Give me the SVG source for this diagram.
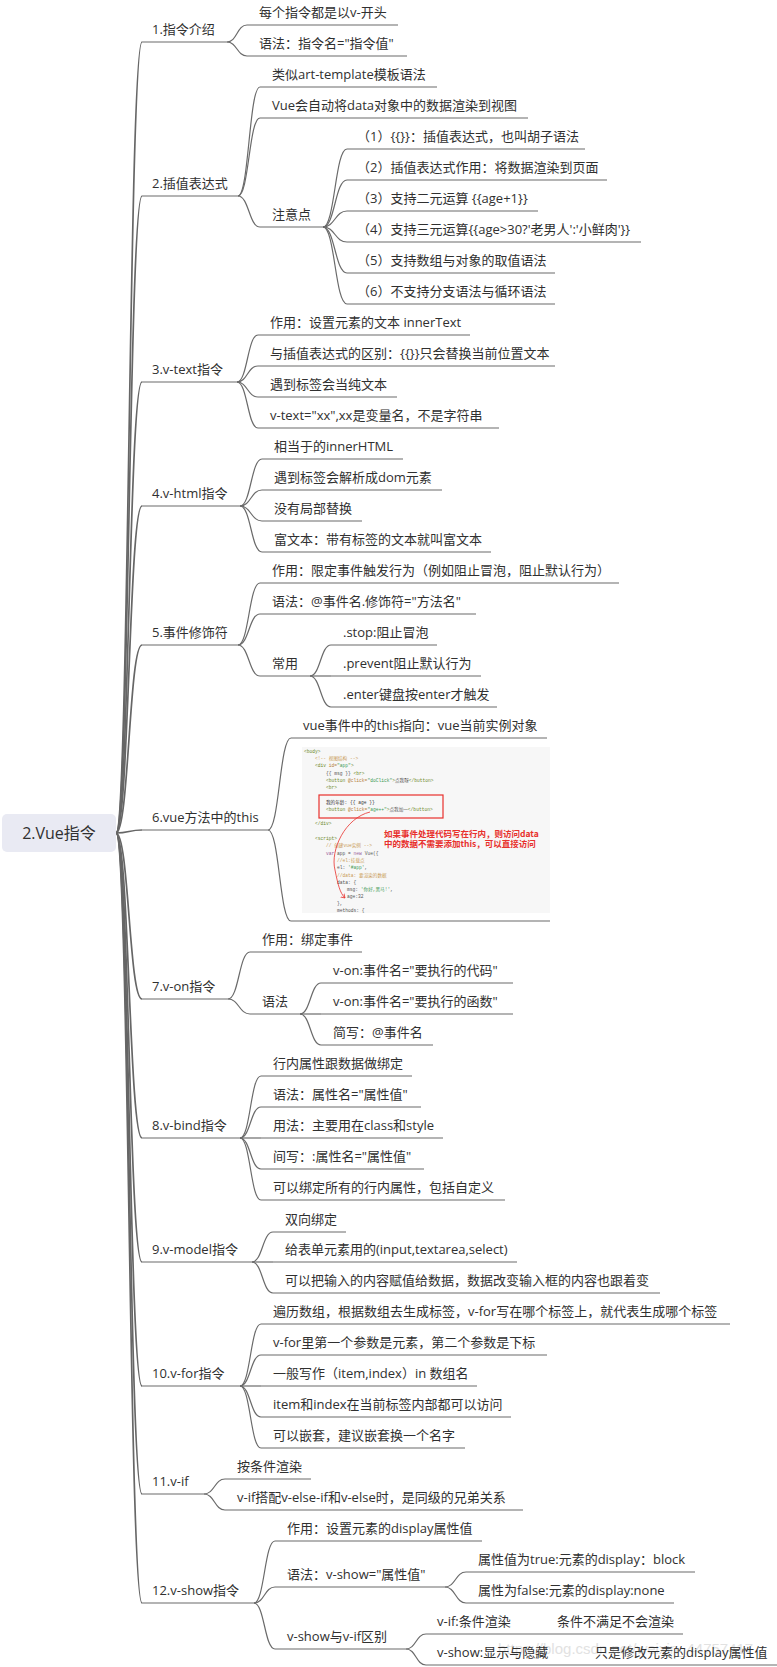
<svg xmlns="http://www.w3.org/2000/svg" width="777" height="1667" viewBox="0 0 777 1667">
<style>
.t{font-family:"Open Sans","Noto Sans CJK SC",sans-serif;font-size:13px;fill:#303030}
.u{stroke:#6a6a6a;stroke-width:1.2;fill:none}
.c{stroke:#6a6a6a;stroke-width:1.2;fill:none}
.k{stroke:#666666;stroke-width:1.7;fill:none}
.code{font-family:"Liberation Mono","Noto Sans CJK SC",monospace;font-size:4.6px;fill:#555}
.tg{fill:#6d8a2c}.at{fill:#b5813a}.st{fill:#3c9a55}.cm{fill:#c99a55}.kw{fill:#9a5a9a}
.red{font-family:"Noto Sans CJK SC",sans-serif;font-size:8.5px;font-weight:bold;fill:#e8302c}
</style>
<defs>
<clipPath id="imgclip"><rect x="302" y="747" width="248" height="166"/></clipPath>
<marker id="rarrow" markerWidth="6" markerHeight="6" refX="4" refY="3" orient="auto" markerUnits="userSpaceOnUse"><path d="M0,0.5 L4,3 L0,5.5" fill="none" stroke="#e8302c" stroke-width="0.8"/></marker>
</defs>
<rect width="777" height="1667" fill="#ffffff"/>

<g id="connectors">
<g class="k">
<path d="M116,833 C129,833 129,42 142,42"/>
<path d="M116,833 C129,833 129,196 142,196"/>
<path d="M116,833 C129,833 129,382 142,382"/>
<path d="M116,833 C129,833 129,506 142,506"/>
<path d="M116,833 C129,833 129,645 142,645"/>
<path d="M116,833 C129,833 129,830 142,830"/>
<path d="M116,833 C129,833 129,999 142,999"/>
<path d="M116,833 C129,833 129,1138 142,1138"/>
<path d="M116,833 C129,833 129,1262 142,1262"/>
<path d="M116,833 C129,833 129,1386 142,1386"/>
<path d="M116,833 C129,833 129,1494 142,1494"/>
<path d="M116,833 C129,833 129,1603 142,1603"/>
</g>
<g class="c">
<path d="M227,42 C237,42 237,25 247,25"/>
<path d="M227,42 C237,42 237,56 247,56"/>
<path d="M238,196 C249,196 249,87 260,87"/>
<path d="M238,196 C249,196 249,118 260,118"/>
<path d="M238,196 C249,196 249,227 260,227"/>
<path d="M323,227 C335,227 335,149 347,149"/>
<path d="M323,227 C335,227 335,180 347,180"/>
<path d="M323,227 C335,227 335,211 347,211"/>
<path d="M323,227 C335,227 335,242 347,242"/>
<path d="M323,227 C335,227 335,273 347,273"/>
<path d="M323,227 C335,227 335,304 347,304"/>
<path d="M237,382 C247.5,382 247.5,335 258,335"/>
<path d="M237,382 C247.5,382 247.5,366 258,366"/>
<path d="M237,382 C247.5,382 247.5,397 258,397"/>
<path d="M237,382 C247.5,382 247.5,428 258,428"/>
<path d="M240,506 C251,506 251,459 262,459"/>
<path d="M240,506 C251,506 251,490 262,490"/>
<path d="M240,506 C251,506 251,521 262,521"/>
<path d="M240,506 C251,506 251,552 262,552"/>
<path d="M238,645 C249,645 249,583 260,583"/>
<path d="M238,645 C249,645 249,614 260,614"/>
<path d="M238,645 C249,645 249,676 260,676"/>
<path d="M310,676 C320.5,676 320.5,645 331,645"/>
<path d="M310,676 L331,676"/>
<path d="M310,676 C320.5,676 320.5,707 331,707"/>
<path d="M268,830 C279.5,830 279.5,738 291,738"/>
<path d="M268,830 C279.5,830 279.5,921 291,921"/>
<path d="M228,999 C239,999 239,952 250,952"/>
<path d="M228,999 C239,999 239,1014 250,1014"/>
<path d="M300,1014 C310.5,1014 310.5,983 321,983"/>
<path d="M300,1014 L321,1014"/>
<path d="M300,1014 C310.5,1014 310.5,1045 321,1045"/>
<path d="M240,1138 C250.5,1138 250.5,1076 261,1076"/>
<path d="M240,1138 C250.5,1138 250.5,1107 261,1107"/>
<path d="M240,1138 L261,1138"/>
<path d="M240,1138 C250.5,1138 250.5,1169 261,1169"/>
<path d="M240,1138 C250.5,1138 250.5,1200 261,1200"/>
<path d="M252,1262 C262.5,1262 262.5,1232 273,1232"/>
<path d="M252,1262 L273,1262"/>
<path d="M252,1262 C262.5,1262 262.5,1293 273,1293"/>
<path d="M240,1386 C250.5,1386 250.5,1324 261,1324"/>
<path d="M240,1386 C250.5,1386 250.5,1355 261,1355"/>
<path d="M240,1386 L261,1386"/>
<path d="M240,1386 C250.5,1386 250.5,1417 261,1417"/>
<path d="M240,1386 C250.5,1386 250.5,1448 261,1448"/>
<path d="M204,1494 C214.5,1494 214.5,1479 225,1479"/>
<path d="M204,1494 C214.5,1494 214.5,1510 225,1510"/>
<path d="M254,1603 C264.5,1603 264.5,1541 275,1541"/>
<path d="M254,1603 C264.5,1603 264.5,1587 275,1587"/>
<path d="M254,1603 C264.5,1603 264.5,1649 275,1649"/>
<path d="M445,1587 C455.5,1587 455.5,1572 466,1572"/>
<path d="M445,1587 C455.5,1587 455.5,1603 466,1603"/>
<path d="M406,1649 C416,1649 416,1634 426,1634"/>
<path d="M406,1649 C416,1649 416,1665 426,1665"/>
</g>
</g>

<g id="root">
<rect x="2" y="814" width="114" height="38" rx="5" fill="#e9eaf3"/>
<text x="59" y="839" text-anchor="middle" class="t" style="font-size:16px">2.Vue指令</text>
</g>

<g id="n1"><line class="u" x1="142" y1="42" x2="227" y2="42"/><text class="t" x="152" y="34">1.指令介绍</text></g>
<g id="n1-1"><line class="u" x1="247" y1="25" x2="398" y2="25"/><text class="t" x="259" y="17">每个指令都是以v-开头</text></g>
<g id="n1-2"><line class="u" x1="247" y1="56" x2="407" y2="56"/><text class="t" x="259" y="48">语法：指令名="指令值"</text></g>

<g id="n2"><line class="u" x1="142" y1="196" x2="238" y2="196"/><text class="t" x="152" y="188">2.插值表达式</text></g>
<g id="n2-1"><line class="u" x1="260" y1="87" x2="437" y2="87"/><text class="t" x="272" y="79">类似art-template模板语法</text></g>
<g id="n2-2"><line class="u" x1="260" y1="118" x2="528" y2="118"/><text class="t" x="272" y="110">Vue会自动将data对象中的数据渲染到视图</text></g>
<g id="n2-3"><line class="u" x1="260" y1="227" x2="323" y2="227"/><text class="t" x="272" y="219">注意点</text></g>
<g id="n2-3-1"><line class="u" x1="347" y1="149" x2="585" y2="149"/><text class="t" x="357" y="141">（1）{{}}：插值表达式，也叫胡子语法</text></g>
<g id="n2-3-2"><line class="u" x1="347" y1="180" x2="607" y2="180"/><text class="t" x="357" y="172">（2）插值表达式作用：将数据渲染到页面</text></g>
<g id="n2-3-3"><line class="u" x1="347" y1="211" x2="538" y2="211"/><text class="t" x="357" y="203">（3）支持二元运算 {{age+1}}</text></g>
<g id="n2-3-4"><line class="u" x1="347" y1="242" x2="641" y2="242"/><text class="t" x="357" y="234">（4）支持三元运算{{age&gt;30?'老男人':'小鲜肉'}}</text></g>
<g id="n2-3-5"><line class="u" x1="347" y1="273" x2="555" y2="273"/><text class="t" x="357" y="265">（5）支持数组与对象的取值语法</text></g>
<g id="n2-3-6"><line class="u" x1="347" y1="304" x2="555" y2="304"/><text class="t" x="357" y="296">（6）不支持分支语法与循环语法</text></g>

<g id="n3"><line class="u" x1="142" y1="382" x2="237" y2="382"/><text class="t" x="152" y="374">3.v-text指令</text></g>
<g id="n3-1"><line class="u" x1="258" y1="335" x2="470" y2="335"/><text class="t" x="270" y="327">作用：设置元素的文本 innerText</text></g>
<g id="n3-2"><line class="u" x1="258" y1="366" x2="555" y2="366"/><text class="t" x="270" y="358">与插值表达式的区别：{{}}只会替换当前位置文本</text></g>
<g id="n3-3"><line class="u" x1="258" y1="397" x2="397" y2="397"/><text class="t" x="270" y="389">遇到标签会当纯文本</text></g>
<g id="n3-4"><line class="u" x1="258" y1="428" x2="499" y2="428"/><text class="t" x="270" y="420">v-text="xx",xx是变量名，不是字符串</text></g>

<g id="n4"><line class="u" x1="142" y1="506" x2="240" y2="506"/><text class="t" x="152" y="498">4.v-html指令</text></g>
<g id="n4-1"><line class="u" x1="262" y1="459" x2="403" y2="459"/><text class="t" x="274" y="451">相当于的innerHTML</text></g>
<g id="n4-2"><line class="u" x1="262" y1="490" x2="442" y2="490"/><text class="t" x="274" y="482">遇到标签会解析成dom元素</text></g>
<g id="n4-3"><line class="u" x1="262" y1="521" x2="362" y2="521"/><text class="t" x="274" y="513">没有局部替换</text></g>
<g id="n4-4"><line class="u" x1="262" y1="552" x2="491" y2="552"/><text class="t" x="274" y="544">富文本：带有标签的文本就叫富文本</text></g>

<g id="n5"><line class="u" x1="142" y1="645" x2="238" y2="645"/><text class="t" x="152" y="637">5.事件修饰符</text></g>
<g id="n5-1"><line class="u" x1="260" y1="583" x2="619" y2="583"/><text class="t" x="272" y="575">作用：限定事件触发行为（例如阻止冒泡，阻止默认行为）</text></g>
<g id="n5-2"><line class="u" x1="260" y1="614" x2="476" y2="614"/><text class="t" x="272" y="606">语法：@事件名.修饰符="方法名"</text></g>
<g id="n5-3"><line class="u" x1="260" y1="676" x2="310" y2="676"/><text class="t" x="272" y="668">常用</text></g>
<g id="n5-3-1"><line class="u" x1="331" y1="645" x2="437" y2="645"/><text class="t" x="343" y="637">.stop:阻止冒泡</text></g>
<g id="n5-3-2"><line class="u" x1="331" y1="676" x2="481" y2="676"/><text class="t" x="343" y="668">.prevent阻止默认行为</text></g>
<g id="n5-3-3"><line class="u" x1="331" y1="707" x2="497" y2="707"/><text class="t" x="343" y="699">.enter键盘按enter才触发</text></g>

<g id="n6"><line class="u" x1="142" y1="830" x2="268" y2="830"/><text class="t" x="152" y="822">6.vue方法中的this</text></g>
<g id="n6-1"><line class="u" x1="291" y1="738" x2="547" y2="738"/><text class="t" x="303" y="730">vue事件中的this指向：vue当前实例对象</text></g>
<g id="n6-2">
<line class="u" x1="291" y1="921" x2="550" y2="921"/>
<rect x="302" y="747" width="248" height="166" fill="#f7f7f7"/>
<g clip-path="url(#imgclip)">
<text class="code" x="304" y="753"><tspan class="tg">&lt;body&gt;</tspan></text>
<text class="code" x="315" y="760"><tspan class="cm">&lt;!-- 视图结构 --&gt;</tspan></text>
<text class="code" x="315" y="767"><tspan class="tg">&lt;div</tspan> <tspan class="at">id=</tspan><tspan class="st">"app"</tspan><tspan class="tg">&gt;</tspan></text>
<text class="code" x="326" y="775">{{ msg }} <tspan class="tg">&lt;br&gt;</tspan></text>
<text class="code" x="326" y="782"><tspan class="tg">&lt;button</tspan> <tspan class="at">@click=</tspan><tspan class="st">"doClick"</tspan><tspan class="tg">&gt;</tspan>点我呀<tspan class="tg">&lt;/button&gt;</tspan></text>
<text class="code" x="326" y="789"><tspan class="tg">&lt;br&gt;</tspan></text>
<text class="code" x="326" y="804" style="fill:#333">我的年龄: {{ age }}</text>
<text class="code" x="326" y="811"><tspan class="tg">&lt;button</tspan> <tspan class="at">@click=</tspan><tspan class="st">"age++"</tspan><tspan class="tg">&gt;</tspan>点我加一<tspan class="tg">&lt;/button&gt;</tspan></text>
<text class="code" x="315" y="825"><tspan class="tg">&lt;/div&gt;</tspan></text>
<text class="code" x="315" y="840"><tspan class="tg">&lt;script&gt;</tspan></text>
<text class="code" x="326" y="847"><tspan class="cm">// 创建vue实例 --&gt;</tspan></text>
<text class="code" x="326" y="855"><tspan class="kw">var</tspan> app = <tspan class="kw">new</tspan> Vue({</text>
<text class="code" x="337" y="862"><tspan class="cm">//el:挂载点</tspan></text>
<text class="code" x="337" y="869">el: <tspan class="st">'#app'</tspan>,</text>
<text class="code" x="337" y="877"><tspan class="cm">//data: 要渲染的数据</tspan></text>
<text class="code" x="337" y="884">data: {</text>
<text class="code" x="347" y="891">msg: <tspan class="st">'你好,黑马!'</tspan>,</text>
<text class="code" x="347" y="898">age:32</text>
<text class="code" x="337" y="905">},</text>
<text class="code" x="337" y="912">methods: {</text>
</g>
<rect x="319" y="795" width="124" height="23" fill="none" stroke="#e8302c" stroke-width="1.2"/>
<path d="M370,812 C345,818 330,850 335,870 C338,885 340,893 345,898" fill="none" stroke="#e8302c" stroke-width="0.8" marker-end="url(#rarrow)"/>
<text class="red" x="384" y="837">如果事件处理代码写在行内，则访问data</text>
<text class="red" x="384" y="847">中的数据不需要添加this，可以直接访问</text>
</g>

<g id="n7"><line class="u" x1="142" y1="999" x2="228" y2="999"/><text class="t" x="152" y="991">7.v-on指令</text></g>
<g id="n7-1"><line class="u" x1="250" y1="952" x2="362" y2="952"/><text class="t" x="262" y="944">作用：绑定事件</text></g>
<g id="n7-2"><line class="u" x1="250" y1="1014" x2="300" y2="1014"/><text class="t" x="262" y="1006">语法</text></g>
<g id="n7-2-1"><line class="u" x1="321" y1="983" x2="513" y2="983"/><text class="t" x="333" y="975">v-on:事件名="要执行的代码"</text></g>
<g id="n7-2-2"><line class="u" x1="321" y1="1014" x2="513" y2="1014"/><text class="t" x="333" y="1006">v-on:事件名="要执行的函数"</text></g>
<g id="n7-2-3"><line class="u" x1="321" y1="1045" x2="433" y2="1045"/><text class="t" x="333" y="1037">简写：@事件名</text></g>

<g id="n8"><line class="u" x1="142" y1="1138" x2="240" y2="1138"/><text class="t" x="152" y="1130">8.v-bind指令</text></g>
<g id="n8-1"><line class="u" x1="261" y1="1076" x2="412" y2="1076"/><text class="t" x="273" y="1068">行内属性跟数据做绑定</text></g>
<g id="n8-2"><line class="u" x1="261" y1="1107" x2="421" y2="1107"/><text class="t" x="273" y="1099">语法：属性名="属性值"</text></g>
<g id="n8-3"><line class="u" x1="261" y1="1138" x2="443" y2="1138"/><text class="t" x="273" y="1130">用法：主要用在class和style</text></g>
<g id="n8-4"><line class="u" x1="261" y1="1169" x2="424" y2="1169"/><text class="t" x="273" y="1161">间写：:属性名="属性值"</text></g>
<g id="n8-5"><line class="u" x1="261" y1="1200" x2="505" y2="1200"/><text class="t" x="273" y="1192">可以绑定所有的行内属性，包括自定义</text></g>

<g id="n9"><line class="u" x1="142" y1="1262" x2="252" y2="1262"/><text class="t" x="152" y="1254">9.v-model指令</text></g>
<g id="n9-1"><line class="u" x1="273" y1="1232" x2="346" y2="1232"/><text class="t" x="285" y="1224">双向绑定</text></g>
<g id="n9-2"><line class="u" x1="273" y1="1262" x2="517" y2="1262"/><text class="t" x="285" y="1254">给表单元素用的(input,textarea,select)</text></g>
<g id="n9-3"><line class="u" x1="273" y1="1293" x2="660" y2="1293"/><text class="t" x="285" y="1285">可以把输入的内容赋值给数据，数据改变输入框的内容也跟着变</text></g>

<g id="n10"><line class="u" x1="142" y1="1386" x2="240" y2="1386"/><text class="t" x="152" y="1378">10.v-for指令</text></g>
<g id="n10-1"><line class="u" x1="261" y1="1324" x2="730" y2="1324"/><text class="t" x="273" y="1316">遍历数组，根据数组去生成标签，v-for写在哪个标签上，就代表生成哪个标签</text></g>
<g id="n10-2"><line class="u" x1="261" y1="1355" x2="547" y2="1355"/><text class="t" x="273" y="1347">v-for里第一个参数是元素，第二个参数是下标</text></g>
<g id="n10-3"><line class="u" x1="261" y1="1386" x2="477" y2="1386"/><text class="t" x="273" y="1378">一般写作（item,index）in 数组名</text></g>
<g id="n10-4"><line class="u" x1="261" y1="1417" x2="511" y2="1417"/><text class="t" x="273" y="1409">item和index在当前标签内部都可以访问</text></g>
<g id="n10-5"><line class="u" x1="261" y1="1448" x2="465" y2="1448"/><text class="t" x="273" y="1440">可以嵌套，建议嵌套换一个名字</text></g>

<g id="n11"><line class="u" x1="142" y1="1494" x2="204" y2="1494"/><text class="t" x="152" y="1486">11.v-if</text></g>
<g id="n11-1"><line class="u" x1="225" y1="1479" x2="311" y2="1479"/><text class="t" x="237" y="1471">按条件渲染</text></g>
<g id="n11-2"><line class="u" x1="225" y1="1510" x2="523" y2="1510"/><text class="t" x="237" y="1502">v-if搭配v-else-if和v-else时，是同级的兄弟关系</text></g>

<g id="n12"><line class="u" x1="142" y1="1603" x2="254" y2="1603"/><text class="t" x="152" y="1595">12.v-show指令</text></g>
<g id="n12-1"><line class="u" x1="275" y1="1541" x2="482" y2="1541"/><text class="t" x="287" y="1533">作用：设置元素的display属性值</text></g>
<g id="n12-2"><line class="u" x1="275" y1="1587" x2="445" y2="1587"/><text class="t" x="287" y="1579">语法：v-show="属性值"</text></g>
<g id="n12-2-1"><line class="u" x1="466" y1="1572" x2="695" y2="1572"/><text class="t" x="478" y="1564">属性值为true:元素的display：block</text></g>
<g id="n12-2-2"><line class="u" x1="466" y1="1603" x2="674" y2="1603"/><text class="t" x="478" y="1595">属性为false:元素的display:none</text></g>
<g id="n12-3"><line class="u" x1="275" y1="1649" x2="406" y2="1649"/><text class="t" x="287" y="1641">v-show与v-if区别</text></g>
<g id="n12-3-1"><line class="u" x1="426" y1="1634" x2="683" y2="1634"/><text class="t" x="437" y="1626">v-if:条件渲染</text><text class="t" x="557" y="1626">条件不满足不会渲染</text></g>
<text x="498" y="1654" style="font-family:'Liberation Sans',sans-serif;font-size:15px;fill:#e2e2e2">https://blog.csdn.net/weixin_44757417</text>
<g id="n12-3-2"><line class="u" x1="426" y1="1665" x2="777" y2="1665"/><text class="t" x="437" y="1657">v-show:显示与隐藏</text><text class="t" x="595" y="1657">只是修改元素的display属性值</text></g>
</svg>
